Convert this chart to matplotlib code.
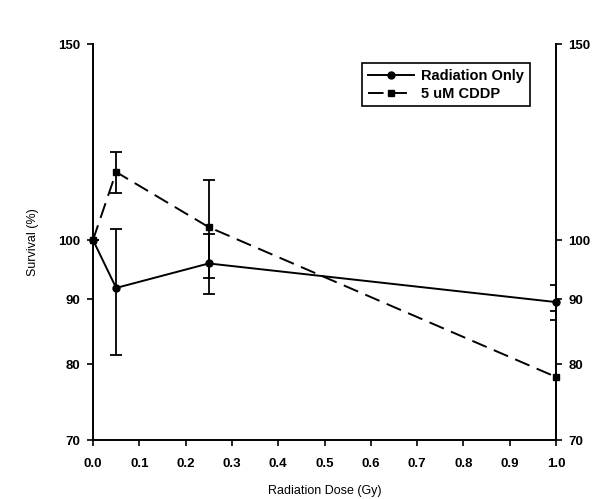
import numpy as np
import matplotlib.pyplot as plt

plt.rcParams['font.family'] = ['Liberation Sans', 'DejaVu Sans']

# dose (Gy) and survival (%) for both treatment groups
dose = [0.0, 0.05, 0.25, 1.0]

rad_only = [100.0, 91.8, 95.9, 89.5]
rad_only_lo = [100.0, 81.3, 90.8, 86.6]
rad_only_hi = [100.0, 102.3, 101.3, 92.3]

cddp = [100.0, 115.1, 102.7, 78.2]
cddp_lo = [100.0, 110.2, 93.4, 69.5]
cddp_hi = [100.0, 120.0, 113.2, 88.0]

x_ticks = [0.0, 0.1, 0.2, 0.3, 0.4, 0.5, 0.6, 0.7, 0.8, 0.9, 1.0]
y_ticks = [70, 80, 90, 100, 150]

# the survival axis is stretched unevenly between its tick values
_anchor_v = np.log10([30, 70, 80, 90, 100, 150, 1000])
_anchor_p = np.array([-482, 0, 76, 141, 200, 396, 1313], dtype=float)


def fwd(v):
    v = np.clip(np.asarray(v, dtype=float), 1e-6, None)
    return np.interp(np.log10(v), _anchor_v, _anchor_p)


def inv(p):
    return 10 ** np.interp(np.asarray(p, dtype=float), _anchor_p, _anchor_v)


fig = plt.figure(figsize=(6.0, 4.99), dpi=100)
ax = fig.add_axes([0.155, 0.1182, 0.7717, 0.7936])
ax.set_yscale('function', functions=(fwd, inv))

err_rad = [np.subtract(rad_only, rad_only_lo), np.subtract(rad_only_hi, rad_only)]
err_cddp = [np.subtract(cddp, cddp_lo), np.subtract(cddp_hi, cddp)]

# error bars first, then the lines with markers (these go in the legend)
ax.errorbar(dose, rad_only, yerr=err_rad, fmt='none', ecolor='black',
            capsize=4, capthick=1.3, elinewidth=1.3)
ax.errorbar(dose, cddp, yerr=err_cddp, fmt='none', ecolor='black',
            capsize=4, capthick=1.3, elinewidth=1.3)
l1, = ax.plot(dose, rad_only, color='black', lw=1.4, marker='o', ms=5,
              clip_on=False, zorder=4, label='Radiation Only')
l2, = ax.plot(dose, cddp, color='black', lw=1.4, marker='s', ms=5,
              ls=(0, (8, 4)), clip_on=False, zorder=4, label='5 uM CDDP')

ax.set_xlim(0.0, 1.0)
ax.set_ylim(70, 150)
ax.set_xticks(x_ticks)
ax.set_xticklabels([f'{t:.1f}' for t in x_ticks])
ax.set_yticks(y_ticks)
ax.set_yticklabels([str(t) for t in y_ticks])
ax.minorticks_off()

ax.spines['top'].set_visible(False)
for s in ['left', 'right', 'bottom']:
    ax.spines[s].set_linewidth(1.4)

ax.tick_params(axis='both', direction='out', length=4, width=1.2,
               labelsize=9.5)
ax.tick_params(axis='x', pad=9)
ax.tick_params(axis='y', pad=5, right=True, labelright=True)
for lbl in ax.get_xticklabels() + ax.get_yticklabels():
    lbl.set_fontweight('bold')

ax.set_xlabel('Radiation Dose (Gy)', fontsize=9, labelpad=11)
ax.set_ylabel('Survival (%)', fontsize=9, labelpad=14)

leg = ax.legend(handles=[l1, l2], loc='upper right',
                bbox_to_anchor=(0.96, 0.97), fancybox=False,
                edgecolor='black', framealpha=1, handlelength=3.2,
                handletextpad=0.5, prop={'weight': 'bold', 'size': 10.5},
                borderpad=0.4, labelspacing=0.25)
leg.get_frame().set_linewidth(1.2)

fig.savefig('out.png', dpi=100)
